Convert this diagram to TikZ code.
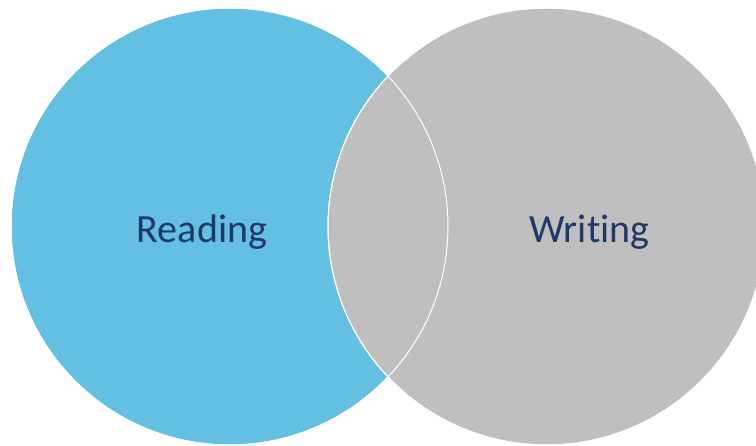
\documentclass[tikz,border=0pt]{standalone}
\usepackage{fontspec}
\setmainfont[Ligatures=NoCommon]{Carlito}
\usepackage{xcolor}
\usetikzlibrary{positioning}
\definecolor{readblue}{RGB}{100,192,227}
\definecolor{writegray}{RGB}{191,191,191}
\definecolor{labelnavy}{RGB}{31,56,104}

\tikzset{
  setdisc/.style={circle, draw=white, line width=1pt, minimum size=437pt, inner sep=0pt},
  setlabel/.style={text=labelnavy, font=\fontsize{40}{42}\selectfont, inner sep=0pt}
}

\begin{document}
\begin{tikzpicture}[x=1pt, y=-1pt]
  \useasboundingbox (0,0) rectangle (756,446);
  % Filled sets
  \node[setdisc, fill=readblue] (reading) at (229.5,226.5) {};
  \node[setdisc, fill=writegray] (writing) at (546.5,226.5) {};
  % Outlines again on top, so both arcs show in the overlap
  \node[setdisc] (readingrim) at (reading.center) {};
  \node[setdisc] (writingrim) at (writing.center) {};
  % Labels
  \node[setlabel, anchor=base] (readtext) at (202,243) {Reading};
  \node[setlabel, anchor=base] (writetext) at (589.5,243) {Writing};
\end{tikzpicture}
\end{document}
